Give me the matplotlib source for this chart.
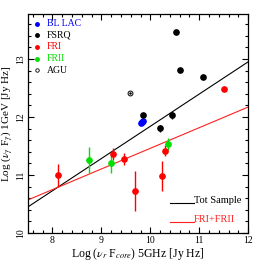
import matplotlib
matplotlib.use("Agg")
from matplotlib import pyplot as plt
from matplotlib.ticker import MultipleLocator
import numpy as np

plt.rcParams['font.family'] = ['Liberation Serif', 'DejaVu Serif']
plt.rcParams['mathtext.fontset'] = 'stix'

# data
blazar_x = [9.80, 9.83, 9.86]
blazar_y = [11.89, 11.91, 11.93]

fsrq_x = [10.53, 10.60, 11.07, 10.44, 10.20, 9.86]
fsrq_y = [13.46, 12.81, 12.69, 12.03, 11.81, 12.03]
fsrq_err = [0.0, 0.0, 0.0, 0.06, 0.06, 0.0]

fri_x = [8.12, 9.24, 9.47, 9.69, 10.24, 10.31, 11.50]
fri_y = [11.00, 11.36, 11.28, 10.72, 10.99, 11.42, 12.49]
fri_lo = [0.20, 0.10, 0.10, 0.34, 0.26, 0.10, 0.0]
fri_hi = [0.19, 0.10, 0.10, 0.34, 0.25, 0.10, 0.0]

frii_x = [8.75, 9.19, 10.36]
frii_y = [11.25, 11.21, 11.53]
frii_lo = [0.22, 0.18, 0.10]
frii_hi = [0.23, 0.13, 0.10]

agu_x = [9.58]
agu_y = [12.41]

# linear fits
tot_fit = (10.45, 0.556)
radio_fit = (10.57, 0.356)

fig = plt.figure(figsize=(2.62, 2.62), dpi=100)
ax = fig.add_axes([0.107, 0.111, 0.840, 0.836])

xx = np.array([7.5, 12.0])
ax.plot(xx, tot_fit[0] + tot_fit[1] * (xx - 7.5), color='black', lw=0.8)
ax.plot(xx, radio_fit[0] + radio_fit[1] * (xx - 7.5), color='#ff2020', lw=0.8)

ax.errorbar(fsrq_x, fsrq_y, yerr=fsrq_err, fmt='o', color='black', ms=3.8, elinewidth=1, capsize=0)
ax.errorbar(fri_x, fri_y, yerr=[fri_lo, fri_hi], fmt='o', color='#ff0000', ms=3.8, elinewidth=1, capsize=0)
ax.errorbar(frii_x, frii_y, yerr=[frii_lo, frii_hi], fmt='o', color='#00e000', ms=3.8, elinewidth=1, capsize=0)
ax.plot(blazar_x, blazar_y, 'o', color='#0000ff', ms=3.8)
ax.plot(agu_x, agu_y, 'o', mfc='none', mec='black', ms=3.5, mew=0.7)
ax.plot(agu_x, agu_y, 'o', color='black', ms=0.8)

# point legend in the upper left
legend_items = [('BL LAC', '#0000ff', True), ('FSRQ', 'black', True), ('FRI', '#ff0000', True),
                ('FRII', '#00e000', True), ('AGU', 'black', False)]
for i, (name, col, filled) in enumerate(legend_items):
    yy = 0.955 - i * 0.053
    if filled:
        ax.plot([0.04], [yy], 'o', color=col, ms=2.5, transform=ax.transAxes)
    else:
        ax.plot([0.04], [yy], 'o', mfc='none', mec=col, ms=2.5, mew=0.6, transform=ax.transAxes)
    ax.text(0.085, yy, name, color=col, fontsize=7, va='center', ha='left', transform=ax.transAxes)

# line legend in the lower right
ax.plot([0.645, 0.755], [0.137, 0.137], color='black', lw=0.8, transform=ax.transAxes)
ax.text(0.755, 0.137, 'Tot Sample', fontsize=7.5, va='baseline', ha='left', transform=ax.transAxes)
ax.plot([0.645, 0.755], [0.05, 0.05], color='#ff2020', lw=0.8, transform=ax.transAxes)
ax.text(0.755, 0.05, 'FRI+FRII', fontsize=7.5, color='#ff2020', va='baseline', ha='left', transform=ax.transAxes)

ax.set_xlim(7.5, 12)
ax.set_ylim(10, 13.78)
ax.xaxis.set_major_locator(MultipleLocator(1))
ax.xaxis.set_minor_locator(MultipleLocator(0.2))
ax.yaxis.set_major_locator(MultipleLocator(1))
ax.yaxis.set_minor_locator(MultipleLocator(0.2))
ax.tick_params(which='both', direction='in', top=True, right=True, labelsize=7, width=0.8, pad=2)
ax.tick_params(which='major', length=4)
ax.tick_params(which='minor', length=2)
for lab in ax.get_yticklabels():
    lab.set_rotation(90)
    lab.set_va('center')
for sp in ax.spines.values():
    sp.set_linewidth(0.9)

ax.set_xlabel(r'Log ($\nu_r$ F$_{core}$) 5GHz [Jy Hz]', fontsize=8.5, labelpad=1)
ax.set_ylabel(r'Log ($\nu_\gamma$ F$_\gamma$) 1GeV [Jy Hz]', fontsize=8, labelpad=1)

fig.savefig('out.png', dpi=100)
